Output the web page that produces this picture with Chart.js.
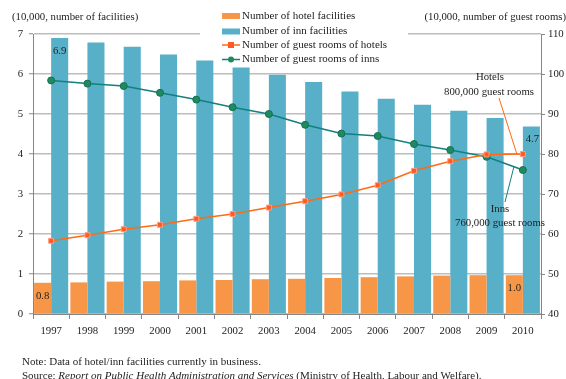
<!DOCTYPE html>
<html>
<head>
<meta charset="utf-8">
<script src="https://cdn.jsdelivr.net/npm/chart.js@4/dist/chart.umd.min.js"></script>
<style>
  html, body { margin: 0; padding: 0; background: #fff; }
  #wrap { width: 566px; height: 379px; }
</style>
</head>
<body>
<div id="wrap"><canvas id="c" width="566" height="379"></canvas></div>
<script>
// Hotels and inns (ryokan) in Japan, 1997-2010
const years = ['1997','1998','1999','2000','2001','2002','2003','2004','2005','2006','2007','2008','2009','2010'];
// facilities, in units of 10,000
const hotelFacilities = [0.78,0.79,0.81,0.82,0.84,0.85,0.87,0.88,0.90,0.92,0.94,0.96,0.97,0.97];
const innFacilities   = [6.90,6.79,6.68,6.49,6.34,6.16,5.98,5.80,5.56,5.38,5.23,5.08,4.90,4.69];
// guest rooms, in units of 10,000
const hotelRooms = [58.3,59.7,61.2,62.3,63.8,65.0,66.6,68.2,69.9,72.2,75.8,78.2,79.9,80.0];
const innRooms   = [98.4,97.6,97.0,95.3,93.6,91.7,90.0,87.3,85.1,84.5,82.5,81.0,79.3,76.0];
// axis ranges
const facilityTicks = [0,1,2,3,4,5,6,7];
const roomTicks = [40,50,60,70,80,90,100,110];

const FONT = '"Liberation Serif", "Times New Roman", Times, serif';
const TXT = '#222';
const AXIS = '#868686';
const COL_HOTEL_BAR = '#F79646';
const COL_INN_BAR = '#58B0C8';
const COL_HOTEL_LINE = '#FF6A14';
const COL_INN_LINE = '#11807F';

function fmtRooms(v) { return Math.round(v * 10000).toLocaleString('en-US'); }

const extras = {
  id: 'extras',
  afterDatasetsDraw(chart) {
    const ctx = chart.ctx;
    ctx.save();
    ctx.font = '10.75px ' + FONT;
    ctx.fillStyle = TXT;
    ctx.textAlign = 'center';
    ctx.textBaseline = 'middle';
    const last = years.length - 1;
    [[0, 0], [0, last], [1, 0], [1, last]].forEach(([ds, i]) => {
      const el = chart.getDatasetMeta(ds).data[i];
      const v = chart.data.datasets[ds].data[i];
      ctx.fillText(v.toFixed(1), el.x + (ds === 1 && i === last ? 1 : 0), el.y + 13);
    });
    ctx.restore();
  },
  afterDraw(chart) {
    const ctx = chart.ctx;
    ctx.save();

    // axis unit captions
    ctx.font = '10.75px ' + FONT;
    ctx.fillStyle = TXT;
    ctx.textBaseline = 'middle';
    ctx.textAlign = 'left';
    ctx.fillText('(10,000, number of facilities)', 12, 17);
    ctx.textAlign = 'right';
    ctx.fillText('(10,000, number of guest rooms)', 566, 17);

    // legend
    ctx.fillStyle = '#fff';
    ctx.fillRect(200, 6, 208, 32);
    const lx = 222, lw = 18, tx = 242;
    const rows = [16, 31.5, 45, 59.5];
    const labels = chart.data.datasets.map(d => d.label);
    ctx.fillStyle = COL_HOTEL_BAR;
    ctx.fillRect(lx, rows[0] - 3, lw, 6);
    ctx.fillStyle = COL_INN_BAR;
    ctx.fillRect(lx, rows[1] - 3, lw, 6);
    ctx.lineWidth = 1.5;
    ctx.strokeStyle = COL_HOTEL_LINE;
    ctx.beginPath(); ctx.moveTo(lx, rows[2]); ctx.lineTo(lx + lw, rows[2]); ctx.stroke();
    ctx.fillStyle = '#FF5A1F';
    ctx.fillRect(lx + lw / 2 - 3, rows[2] - 3, 6, 6);
    ctx.strokeStyle = COL_INN_LINE;
    ctx.beginPath(); ctx.moveTo(lx, rows[3]); ctx.lineTo(lx + lw, rows[3]); ctx.stroke();
    ctx.fillStyle = '#1E8A62';
    ctx.beginPath(); ctx.arc(lx + lw / 2, rows[3], 3, 0, Math.PI * 2); ctx.fill();
    ctx.fillStyle = TXT;
    ctx.textAlign = 'left';
    ctx.font = '11px ' + FONT;
    labels.forEach((t, k) => ctx.fillText(t, tx, rows[k]));

    // callouts for the 2010 room counts
    const last = years.length - 1;
    const hp = chart.getDatasetMeta(2).data[last];
    const ip = chart.getDatasetMeta(3).data[last];
    ctx.lineWidth = 1;
    ctx.strokeStyle = COL_HOTEL_LINE;
    ctx.beginPath(); ctx.moveTo(499, 98); ctx.lineTo(hp.x - 6, hp.y); ctx.stroke();
    ctx.strokeStyle = COL_INN_LINE;
    ctx.beginPath(); ctx.moveTo(ip.x - 9, ip.y - 3); ctx.lineTo(505, 202); ctx.stroke();
    ctx.fillStyle = TXT;
    ctx.textAlign = 'center';
    ctx.font = '10.75px ' + FONT;
    ctx.fillText('Hotels', 490, 77);
    ctx.fillText(fmtRooms(hotelRooms[last]) + ' guest rooms', 489, 92);
    ctx.fillText('Inns', 500, 209);
    ctx.fillText(fmtRooms(innRooms[last]) + ' guest rooms', 500, 223);

    // notes
    ctx.textAlign = 'left';
    ctx.font = '11px ' + FONT;
    ctx.fillText('Note: Data of hotel/inn facilities currently in business.', 22, 362);
    let x = 22;
    const parts = [['Source: ', false], ['Report on Public Health Administration and Services', true], [' (Ministry of Health, Labour and Welfare).', false]];
    parts.forEach(([s, it]) => {
      ctx.font = (it ? 'italic ' : '') + '11px ' + FONT;
      ctx.fillText(s, x, 376);
      x += ctx.measureText(s).width;
    });
    ctx.restore();
  }
};

new Chart(document.getElementById('c'), {
  data: {
    labels: years,
    datasets: [
      { type: 'bar', label: 'Number of hotel facilities', data: hotelFacilities,
        backgroundColor: COL_HOTEL_BAR, yAxisID: 'y', order: 2,
        categoryPercentage: 0.94, barPercentage: 1.0 },
      { type: 'bar', label: 'Number of inn facilities', data: innFacilities,
        backgroundColor: COL_INN_BAR, yAxisID: 'y', order: 2,
        categoryPercentage: 0.94, barPercentage: 1.0 },
      { type: 'line', label: 'Number of guest rooms of hotels', data: hotelRooms,
        borderColor: COL_HOTEL_LINE, borderWidth: 1.5, yAxisID: 'y1', order: 1,
        pointStyle: 'rect', pointRadius: 3.5, pointBackgroundColor: '#FF5A1F',
        pointBorderColor: '#FF9C80', pointBorderWidth: 1, tension: 0 },
      { type: 'line', label: 'Number of guest rooms of inns', data: innRooms,
        borderColor: COL_INN_LINE, borderWidth: 1.5, yAxisID: 'y1', order: 1,
        pointStyle: 'circle', pointRadius: 3.5, pointBackgroundColor: '#1E8A62',
        pointBorderColor: '#17704F', pointBorderWidth: 1, tension: 0 }
    ]
  },
  options: {
    responsive: false,
    devicePixelRatio: 1,
    animation: false,
    layout: { padding: { top: 34, left: 0, right: 0, bottom: 0 } },
    plugins: { legend: { display: false }, tooltip: { enabled: false } },
    scales: {
      x: {
        offset: true,
        afterFit: s => { s.height = 65; },
        grid: { offset: true, drawOnChartArea: false, drawTicks: true, tickLength: 5, color: AXIS },
        border: { color: AXIS, width: 1 },
        ticks: { color: TXT, font: { family: FONT, size: 10.75 }, padding: 6, maxRotation: 0, autoSkip: false }
      },
      y: {
        position: 'left',
        min: facilityTicks[0], max: facilityTicks[facilityTicks.length - 1],
        afterFit: s => { s.width = 33; },
        afterBuildTicks: s => { s.ticks = facilityTicks.map(v => ({ value: v })); },
        grid: { color: '#BDBDBD', lineWidth: 1.5, tickLength: 4, tickColor: AXIS, tickWidth: 1 },
        border: { color: AXIS, width: 1 },
        ticks: { color: TXT, font: { family: FONT, size: 10.75 }, padding: 6 }
      },
      y1: {
        position: 'right',
        min: roomTicks[0], max: roomTicks[roomTicks.length - 1],
        afterFit: s => { s.width = 25; },
        afterBuildTicks: s => { s.ticks = roomTicks.map(v => ({ value: v })); },
        grid: { drawOnChartArea: false, tickLength: 4, tickColor: AXIS, tickWidth: 1 },
        border: { color: AXIS, width: 1 },
        ticks: { color: TXT, font: { family: FONT, size: 10.75 }, padding: 3 }
      }
    }
  },
  plugins: [extras]
});
</script>
</body>
</html>
